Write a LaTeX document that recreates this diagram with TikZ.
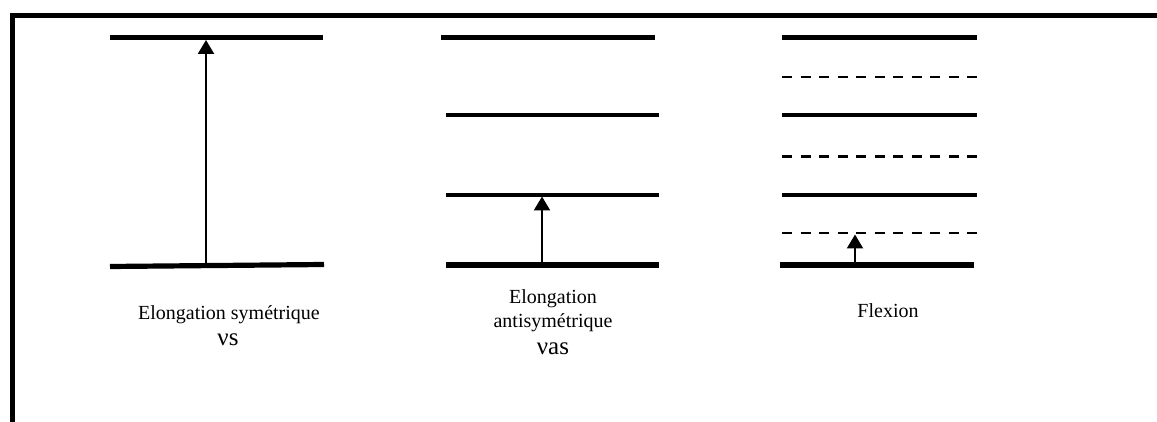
\documentclass[tikz,border=0pt]{standalone}
\usepackage{fontspec}
\setmainfont{Liberation Serif}
\usetikzlibrary{arrows.meta}

\tikzset{
  frameline/.style={line width=5pt},
  groundlevel/.style={line width=5.2pt},
  level/.style={line width=3.2pt},
  virtual/.style={line width=2.8pt, dash pattern=on 10pt off 8.5pt},
  transition/.style={line width=2.2pt, -{Triangle[width=16pt,length=14pt]}},
  caption/.style={anchor=base, inner sep=0pt, font=\fontsize{20}{24}\selectfont},
  nu/.style={anchor=base, inner sep=0pt, font=\fontsize{25}{24}\selectfont}
}

\begin{document}
\begin{tikzpicture}[x=1pt,y=-1pt]
  \useasboundingbox (0,0) rectangle (1157,422);

  % outer frame (top and left edges)
  \draw[frameline] (10,15.5) -- (1157,15.5);
  \draw[frameline] (12.5,13) -- (12.5,422);

  % --- symmetric stretching ---
  \draw[groundlevel] (110,37.5) -- (323,37.5);
  \draw[groundlevel] (110,266.5) -- (324,264.5);
  \coordinate (s0) at (206,265.5);
  \coordinate (s1) at (206,40);
  \draw[transition] (s0) -- (s1);
  \node[caption] (ts) at (229,319) {Elongation symétrique};
  \node[nu] (ns) at (228,345) {νs};

  % --- antisymmetric stretching ---
  \draw[groundlevel] (441,37.5) -- (655,37.5);
  \draw[level] (446,115) -- (659,115);
  \draw[level] (446,195) -- (659,195);
  \draw[groundlevel] (446,265) -- (659,265);
  \coordinate (a0) at (542,263);
  \coordinate (a1) at (542,196.5);
  \draw[transition] (a0) -- (a1);
  \node[caption] (ta1) at (553,303) {Elongation};
  \node[caption] (ta2) at (553,327) {antisymétrique};
  \node[nu] (na) at (553,354) {νas};

  % --- bending ---
  \draw[groundlevel] (782,37.5) -- (977,37.5);
  \draw[virtual] (782,77) -- (977,77);
  \draw[level] (782,115) -- (977,115);
  \draw[virtual] (782,156.7) -- (977,156.7);
  \draw[level] (782,195) -- (977,195);
  \draw[virtual] (782,233) -- (977,233);
  \draw[groundlevel] (780,265) -- (974,265);
  \coordinate (f0) at (855,263);
  \coordinate (f1) at (855,234.5);
  \draw[transition] (f0) -- (f1);
  \node[caption] (tf) at (888,317) {Flexion};
\end{tikzpicture}
\end{document}
